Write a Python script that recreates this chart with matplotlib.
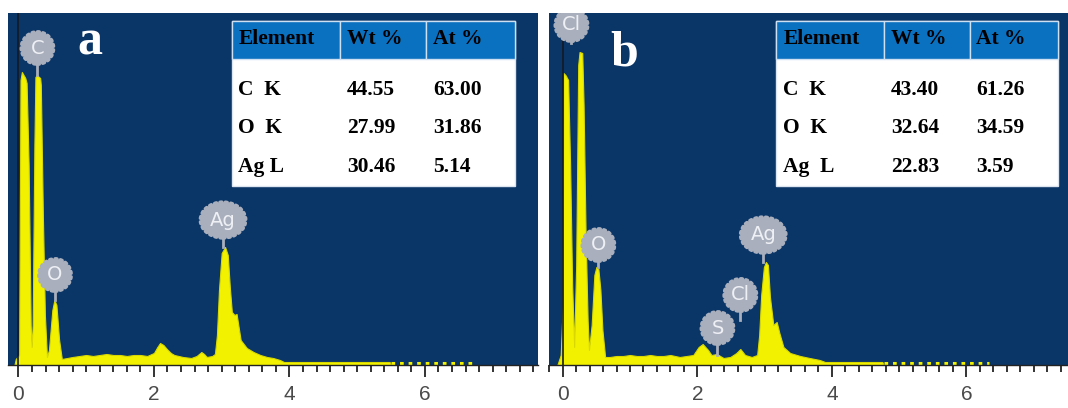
import matplotlib
matplotlib.use("Agg")
import matplotlib.pyplot as plt
from matplotlib.patches import Rectangle
from matplotlib.ticker import MultipleLocator

# spectrum (a): energy in keV, counts in arbitrary units
energy_a = [-0.06, -0.04, 0.01, 0.03, 0.05, 0.1, 0.12, 0.15, 0.18, 0.195, 0.21, 0.235,
            0.25, 0.27, 0.32, 0.33, 0.36, 0.39, 0.42, 0.45, 0.5, 0.53, 0.56, 0.6, 0.64,
            0.72, 0.8, 0.9, 1.0, 1.1, 1.2, 1.3, 1.4, 1.5, 1.6, 1.7, 1.8, 1.9, 2.0, 2.05,
            2.09, 2.14, 2.19, 2.25, 2.3, 2.43, 2.55, 2.63, 2.7, 2.74, 2.78, 2.86, 2.9,
            2.93, 2.96, 3.0, 3.05, 3.09, 3.12, 3.15, 3.19, 3.22, 3.25, 3.28, 3.37, 3.47,
            3.57, 3.67, 3.76, 3.86, 3.92, 5.48, 5.5]
counts_a = [0, 6, 10, 285, 293, 287, 282, 200, 40, 18, 40, 220,
            288, 290, 287, 280, 150, 50, 8, 15, 55, 65, 60, 25, 6,
            7, 8, 9, 10, 9, 10, 11, 10, 10, 9, 10, 10, 9, 12, 18,
            22, 20, 16, 12, 10, 8, 7, 9, 13, 11, 8, 9, 11,
            30, 75, 112, 118, 110, 78, 53, 50, 51, 38, 25, 17, 13,
            10, 8, 7, 5, 3, 3, 0]

# spectrum (b)
energy_b = [-0.08, -0.03, 0.0, 0.01, 0.04, 0.08, 0.11, 0.14, 0.17, 0.2, 0.23, 0.25,
            0.29, 0.31, 0.34, 0.37, 0.39, 0.43, 0.47, 0.5, 0.53, 0.56, 0.59, 0.63, 0.7,
            0.8, 0.9, 1.0, 1.1, 1.2, 1.3, 1.4, 1.5, 1.6, 1.74, 1.94, 2.02, 2.08, 2.16,
            2.21, 2.29, 2.39, 2.49, 2.58, 2.64, 2.71, 2.81, 2.89, 2.92, 2.95, 2.99, 3.02,
            3.05, 3.08, 3.13, 3.18, 3.22, 3.28, 3.38, 3.53, 3.67, 3.82, 3.9, 4.75, 4.77]
counts_b = [0, 10, 60, 292, 290, 285, 200, 80, 18, 100, 300, 313,
            312, 260, 130, 45, 15, 40, 90, 98, 96, 75, 35, 8, 8,
            9, 9, 10, 9, 9, 10, 9, 9, 10, 8, 10, 18, 21, 15,
            10, 11, 7, 8, 12, 16, 10, 8, 10, 30, 70, 98, 103,
            100, 68, 40, 43, 32, 18, 12, 9, 7, 5, 3, 3, 0]

# faint dotted tails at the baseline
tail_a = [5.5, 6.75]
tail_b = [4.78, 6.33]
tail_level = 2.5

# peak badges: label, energy, badge height, stem end
badges_a = ["C", "O", "Ag"]
badge_x_a = [0.28, 0.54, 3.02]
badge_y_a = [317, 90, 145]
stem_end_a = [290, 65, 118]

badges_b = ["Cl", "O", "S", "Cl", "Ag"]
badge_x_b = [0.13, 0.53, 2.3, 2.64, 2.98]
badge_y_b = [340, 120, 37, 70, 130]
stem_end_b = [322, 98, 10, 45, 103]

# quantification tables
col_labels = ["Element", "Wt %", "At %"]
rows_a = [["C  K", "44.55", "63.00"],
          ["O  K", "27.99", "31.86"],
          ["Ag L", "30.46", "5.14"]]
rows_b = [["C  K", "43.40", "61.26"],
          ["O  K", "32.64", "34.59"],
          ["Ag  L", "22.83", "3.59"]]

W, H = 1068, 408
BG = "#0a3567"
YEL = "#f2f200"
BADGE = "#a9afbc"
HEAD = "#0a70c0"
SERIF = "Liberation Serif"


def px_axes(fig, left, top, right, bottom):
    return fig.add_axes([left / W, 1 - bottom / H, (right - left) / W, (bottom - top) / H])


def draw_table(ax, x0, x1, rows):
    y_top, y_head, y_bot = 0.977, 0.869, 0.5085
    splits = [0.0, 0.3825, 0.686, 1.0]
    width = x1 - x0
    edges = [x0 + s * width for s in splits]
    ax.add_patch(Rectangle((x0, y_bot), width, y_top - y_bot, transform=ax.transAxes,
                           facecolor="white", edgecolor="#dde6f0", lw=1.0, zorder=5))
    for i in range(3):
        ax.add_patch(Rectangle((edges[i], y_head), edges[i + 1] - edges[i], y_top - y_head,
                               transform=ax.transAxes, facecolor=HEAD, edgecolor="#cfe0f2",
                               lw=1.0, zorder=6))
        ax.text(edges[i] + 0.013, 0.925, col_labels[i], transform=ax.transAxes,
                ha="left", va="center", fontsize=15.5, fontweight="bold", family=SERIF,
                color="black", zorder=7)
    row_y = [0.781, 0.673, 0.5625]
    for r, row in enumerate(rows):
        for i, cell in enumerate(row):
            ax.text(edges[i] + 0.013, row_y[r], cell, transform=ax.transAxes,
                    ha="left", va="center", fontsize=15.5, fontweight="bold", family=SERIF,
                    color="black", zorder=7)


def draw_panel(ax, energy, counts, tail, labels, bx, by, stem_end, rows, tx0, tx1,
               letter, letter_pos):
    ax.set_facecolor(BG)
    ax.fill_between(energy, counts, 0, color=YEL, lw=0.8, edgecolor="#d8d800", zorder=2)
    ax.plot(tail, [tail_level, tail_level], color=YEL, lw=2.2, ls=(0, (1.2, 1.6)), zorder=2)
    ax.axvline(0, color="#141a24", lw=1.2, zorder=3)
    ax.set_ylim(0, 352)

    for lab, x, y, y_end in zip(labels, bx, by, stem_end):
        ax.plot([x, x], [y, y_end], color=BADGE, lw=2.0, zorder=3)
        style = "ellipse,pad=0.16" if lab == "Ag" else "circle,pad=0.34"
        ax.text(x, y, lab, ha="center", va="center", fontsize=14, color="#eef0f5",
                zorder=4, clip_on=True,
                bbox=dict(boxstyle=style, fc=BADGE, ec=BADGE, lw=2.6,
                          ls=(0, (0.5, 1.0)), capstyle="round"))

    draw_table(ax, tx0, tx1, rows)
    ax.text(letter_pos[0], letter_pos[1], letter, transform=ax.transAxes, ha="left",
            va="baseline", fontsize=36, fontweight="bold", family=SERIF, color="white",
            zorder=7)

    for side in ["top", "right", "left"]:
        ax.spines[side].set_visible(False)
    ax.spines["bottom"].set_color("#222222")
    ax.spines["bottom"].set_linewidth(1.0)
    ax.set_yticks([])
    ax.xaxis.set_major_locator(MultipleLocator(2))
    ax.xaxis.set_minor_locator(MultipleLocator(0.2))
    ax.tick_params(axis="x", which="major", length=8.5, width=1.4, color="#333333",
                   pad=6, labelsize=15, labelcolor="#4a4a4a")
    ax.tick_params(axis="x", which="minor", length=5, width=1.4, color="#333333")


fig = plt.figure(figsize=(W / 100, H / 100), dpi=100)
fig.patch.set_facecolor("white")

ax_a = px_axes(fig, 7.5, 13, 538, 365)
ax_a.set_xlim(-0.162, 7.67)
draw_panel(ax_a, energy_a, counts_a, tail_a, badges_a, badge_x_a, badge_y_a, stem_end_a,
           rows_a, 0.4224, 0.9566, "a", (0.131, 0.881))

ax_b = px_axes(fig, 549, 13, 1068, 365)
ax_b.set_xlim(-0.204, 7.51)
draw_panel(ax_b, energy_b, counts_b, tail_b, badges_b, badge_x_b, badge_y_b, stem_end_b,
           rows_b, 0.4383, 0.9807, "b", (0.119, 0.852))

for ax in (ax_a, ax_b):
    ax.set_xticks([0, 2, 4, 6])
    ax.set_xticklabels(["0", "2", "4", "6"], family="Liberation Sans")

fig.savefig("out.png", dpi=100)
